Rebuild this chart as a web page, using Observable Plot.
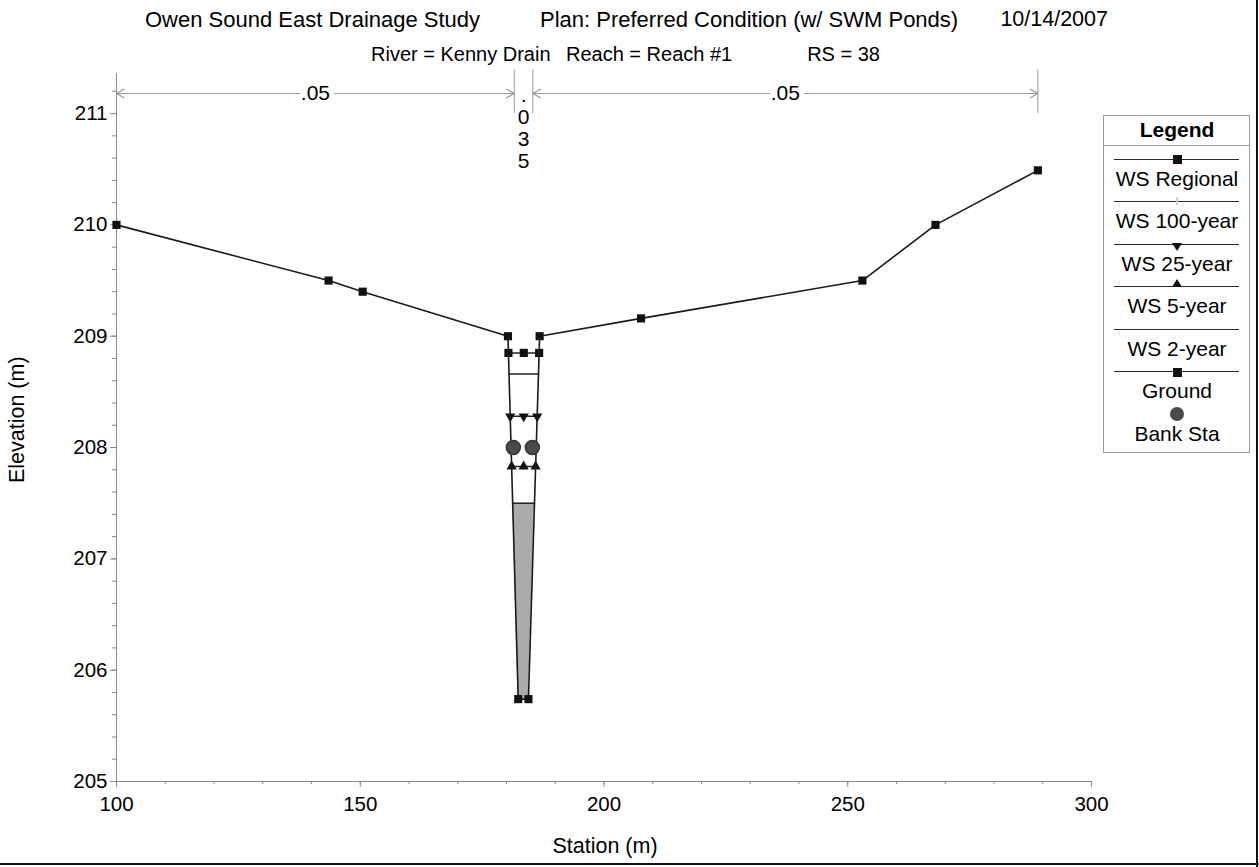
<!DOCTYPE html>
<html><head><meta charset="utf-8">
<script src="https://cdn.jsdelivr.net/npm/d3@7"></script>
<script src="https://cdn.jsdelivr.net/npm/@observablehq/plot@0.6"></script>
<style>
html,body{margin:0;padding:0;background:#fff;}
#wrap{position:relative;width:1259px;height:867px;overflow:hidden;font-family:"Liberation Sans",Arial,sans-serif;color:#000;}
#wrap svg{position:absolute;left:0;top:0;}
.t{position:absolute;white-space:pre;}
.ln{position:absolute;height:0;border-top:1.5px solid #2a2a2a;}
.frameR{position:absolute;right:1px;top:0;bottom:0;width:2px;background:#111;}
.frameB{position:absolute;left:0;right:0;bottom:2px;height:2px;background:#111;}
#legend{position:absolute;left:1103px;top:115px;width:145px;height:336px;border:1px solid #9a9a9a;background:#fff;}
</style></head>
<body><div id="wrap"></div>
<script>
// ---------- data ----------
const groundStation = [100, 143.5, 150.5, 180.3, 182.4, 184.5, 186.8, 207.6, 253.0, 268.0, 289.0];
const groundElev    = [210.0, 209.5, 209.4, 209.0, 205.74, 205.74, 209.0, 209.16, 209.5, 210.0, 210.49];
const profiles = ["WS Regional", "WS 100-year", "WS 25-year", "WS 5-year", "WS 2-year"];
const wsElev   = [208.85, 208.66, 208.28, 207.83, 207.50];
const wsSymbol = ["square", null, "triangle", "triangle", null];
const wsRotate = [0, 0, 180, 0, 0];
const bankStation = [181.4, 185.3];
const bankElev    = [208.0, 208.0];
const nBreaks = [100, 181.6, 185.4, 289.0];
const nValues = [".05", ".035", ".05"];
const xTicks = [100, 150, 200, 250, 300];
const yTicks = [205, 206, 207, 208, 209, 210, 211];
const titleText = ["Owen Sound East Drainage Study", "Plan: Preferred Condition (w/ SWM Ponds)", "10/14/2007"];
const subtitleText = ["River = Kenny Drain", "Reach = Reach #1", "RS = 38"];
const legendNames = ["WS Regional", "WS 100-year", "WS 25-year", "WS 5-year", "WS 2-year", "Ground", "Bank Sta"];

// ---------- derived ----------
const ground = groundStation.map((x, i) => ({x, y: groundElev[i]}));
const yMin = d3.min(groundElev);
const iLow = groundElev.indexOf(yMin);
const iHigh = groundElev.lastIndexOf(yMin);
function wall(e, dir) {
  if (dir < 0) {
    for (let j = iLow; j > 0; j--) {
      const a = ground[j - 1], b = ground[j];
      if (a.y >= e) return b.x + (e - b.y) / (a.y - b.y) * (a.x - b.x);
    }
  } else {
    for (let j = iHigh; j < ground.length - 1; j++) {
      const a = ground[j], b = ground[j + 1];
      if (b.y >= e) return a.x + (e - a.y) / (b.y - a.y) * (b.x - a.x);
    }
  }
}
const wsPts = profiles.flatMap((name, i) => {
  const e = wsElev[i], L = wall(e, -1), R = wall(e, 1);
  return [L, (L + R) / 2, R].map(x => ({name, x, y: e, sym: wsSymbol[i], rot: wsRotate[i]}));
});
const lowest = wsElev[wsElev.length - 1];
const fillData = [yMin, lowest].map(y => ({y, x1: wall(y, -1), x2: wall(y, 1)}));
const banks = bankStation.map((x, i) => ({x, y: bankElev[i]}));
const nSeg = nValues.map((label, i) => ({x1: nBreaks[i], x2: nBreaks[i + 1], label}));
const wideSeg = nSeg.filter(d => d.x2 - d.x1 > 20);
const narrowSeg = nSeg.filter(d => d.x2 - d.x1 <= 20);
const xMinor = d3.range(0, 21).map(i => 100 + i * 10);
const yMinor = d3.range(0, 32).map(i => 205 + i * 0.2);

function chevron(color) {
  const m = d3.create("svg:marker")
    .attr("viewBox", "-10 -6 12 12")
    .attr("markerWidth", 12).attr("markerHeight", 12)
    .attr("markerUnits", "userSpaceOnUse")
    .attr("orient", "auto-start-reverse")
    .attr("fill", "none").attr("stroke", color).attr("stroke-width", 1.2);
  m.append("path").attr("d", "M-8,-4.5L0,0L-8,4.5");
  return m.node();
}

const AX = "#8a8a8a";
const chart = Plot.plot({
  width: 1259, height: 867,
  marginLeft: 116, marginRight: 168, marginTop: 73, marginBottom: 86,
  x: {domain: [100, 300], label: null},
  y: {domain: [205, 211.36], label: null},
  style: {fontFamily: '"Liberation Sans", Arial, sans-serif', fontSize: "20.5px", background: "white", color: "black"},
  marks: [
    Plot.areaX(fillData, {y: "y", x1: "x1", x2: "x2", fill: "#ababab"}),
    Plot.ruleY([205], {x1: 100, x2: 300, stroke: AX}),
    Plot.ruleX([100], {y1: 205, y2: 211.36, stroke: AX}),
    Plot.axisX({ticks: xMinor, tickSize: 3, text: null, stroke: AX, label: null}),
    Plot.axisX({ticks: xTicks, tickSize: 6, tickPadding: 9, stroke: AX, fill: "black", label: null, tickFormat: d => String(d), fontSize: 20.5}),
    Plot.axisY({ticks: yMinor, tickSize: 4, text: null, stroke: AX, label: null}),
    Plot.axisY({ticks: yTicks, tickSize: 6, tickPadding: 3, stroke: AX, fill: "black", label: null, tickFormat: d => String(d), fontSize: 20.5}),
    // Manning's n annotations
    Plot.ruleX(nBreaks.slice(1), {y1: 211.0, y2: 211.39, stroke: "#999"}),
    Plot.link(wideSeg, {x1: "x1", x2: "x2", y1: 211.18, y2: 211.18, stroke: "#999", markerStart: chevron, markerEnd: chevron}),
    Plot.text(wideSeg, {x: d => (d.x1 + d.x2) / 2, y: 211.18, text: "label", fill: "black", stroke: "white", strokeWidth: 10, paintOrder: "stroke", fontSize: 21}),
    Plot.text(narrowSeg, {x: d => (d.x1 + d.x2) / 2, y: 210.87, text: d => d.label.split("").join("\n"), lineHeight: 1.05, fill: "black", fontSize: 21}),
    // water surfaces
    Plot.line(wsPts, {x: "x", y: "y", z: "name", stroke: "#222", strokeWidth: 1.5}),
    Plot.dot(wsPts.filter(d => d.sym === "square"), {x: "x", y: "y", symbol: "square", r: 4.6, fill: "#111"}),
    Plot.dot(wsPts.filter(d => d.sym === "triangle"), {x: "x", y: "y", symbol: "triangle", rotate: "rot", r: 3.8, fill: "#111"}),
    // ground
    Plot.line(ground, {x: "x", y: "y", stroke: "#1a1a1a", strokeWidth: 1.6}),
    Plot.dot(ground, {x: "x", y: "y", symbol: "square", r: 4.6, fill: "#111"}),
    // bank stations
    Plot.dot(banks, {x: "x", y: "y", r: 7, fill: "#4a4a4a", stroke: "#333"})
  ]
});

const wrap = document.getElementById("wrap");
wrap.appendChild(chart);

function addText(parent, str, x, cy, opts = {}) {
  const size = opts.size || 20;
  const d = document.createElement("div");
  d.className = "t";
  d.textContent = str;
  d.style.fontSize = size + "px";
  d.style.lineHeight = size + "px";
  d.style.left = x + "px";
  d.style.top = (cy - size / 2) + "px";
  if (opts.bold) d.style.fontWeight = "bold";
  const tx = opts.anchor === "middle" ? "-50%" : opts.anchor === "end" ? "-100%" : "0";
  d.style.transform = `translateX(${tx})` + (opts.rotate ? ` rotate(${opts.rotate}deg)` : "");
  parent.appendChild(d);
  return d;
}

// titles
addText(wrap, titleText[0], 145, 20, {size: 22});
addText(wrap, titleText[1], 540, 20, {size: 22});
addText(wrap, titleText[2], 1108, 20, {size: 21.5, anchor: "end"});
addText(wrap, subtitleText[0], 371, 54, {size: 20});
addText(wrap, subtitleText[1], 566, 54, {size: 20});
addText(wrap, subtitleText[2], 880, 54, {size: 20, anchor: "end"});
// axis titles
addText(wrap, "Station (m)", 605, 847, {size: 21.5, anchor: "middle"});
addText(wrap, "Elevation (m)", 18, 420, {size: 21.5, anchor: "middle", rotate: -90});

// legend
const leg = document.createElement("div");
leg.id = "legend";
wrap.appendChild(leg);
const L0x = 1103, L0y = 115;
addText(leg, "Legend", 1176 - L0x, 128 - L0y, {size: 21, anchor: "middle", bold: true});
const sep = document.createElement("div");
sep.className = "ln";
sep.style.cssText = "left:0;right:0;top:" + (144 - L0y) + "px;border-top:1px solid #9a9a9a;";
leg.appendChild(sep);
const legMarkers = ["square", "faint", "down", "up", null, "square"];
for (let i = 0; i < 6; i++) {
  const ly = 157.7 + i * 42.5 - L0y;
  const ln = document.createElement("div");
  ln.className = "ln";
  ln.style.left = (1113 - L0x) + "px";
  ln.style.width = "125px";
  ln.style.top = ly + "px";
  leg.appendChild(ln);
  const m = legMarkers[i];
  if (m) {
    const mk = document.createElement("div");
    mk.style.position = "absolute";
    const cx = 1176 - L0x;
    if (m === "square") {
      mk.style.cssText += `left:${cx - 4}px;top:${ly - 3.5}px;width:9px;height:9px;background:#111;`;
    } else if (m === "down") {
      mk.style.cssText += `left:${cx - 5}px;top:${ly - 1}px;width:0;height:0;border-left:5px solid transparent;border-right:5px solid transparent;border-top:8px solid #111;`;
    } else if (m === "up") {
      mk.style.cssText += `left:${cx - 5}px;top:${ly - 7}px;width:0;height:0;border-left:5px solid transparent;border-right:5px solid transparent;border-bottom:8px solid #111;`;
    } else if (m === "faint") {
      mk.style.cssText += `left:${cx - 1}px;top:${ly - 4}px;width:2px;height:8px;background:#ccc;`;
    }
    leg.appendChild(mk);
  }
  addText(leg, legendNames[i], 1176 - L0x, ly + 19.5, {size: 21, anchor: "middle"});
}
const circ = document.createElement("div");
circ.style.cssText = `position:absolute;left:${1176 - L0x - 7}px;top:${413.3 - L0y - 7}px;width:14px;height:14px;border-radius:50%;background:#4a4a4a;`;
leg.appendChild(circ);
addText(leg, legendNames[6], 1176 - L0x, 432 - L0y, {size: 21, anchor: "middle"});

// outer frame
const fr = document.createElement("div"); fr.className = "frameR"; wrap.appendChild(fr);
const fb = document.createElement("div"); fb.className = "frameB"; wrap.appendChild(fb);
</script></body></html>
